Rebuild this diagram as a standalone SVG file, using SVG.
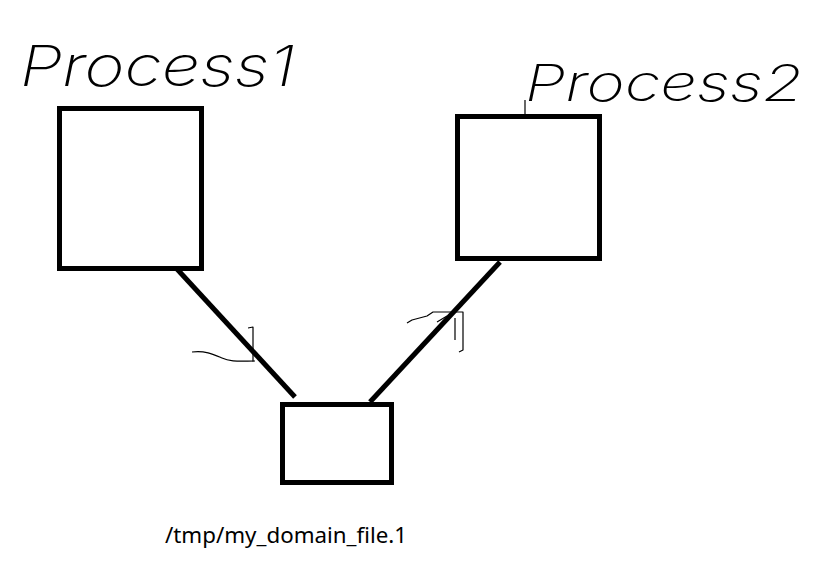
<svg xmlns="http://www.w3.org/2000/svg" width="837" height="570" viewBox="0 0 837 570">
<style>
.box{fill:#fff;stroke:#000;stroke-width:5}
.conn{stroke:#000;stroke-width:5;stroke-linecap:butt;fill:none}
.scrib{stroke:#000;stroke-width:1.2;fill:none;stroke-linejoin:round}
.hand{font-family:"Inter","Open Sans","DejaVu Sans",sans-serif;font-weight:200;font-style:italic;fill:#000}
.label{font-family:"Noto Sans","Open Sans","DejaVu Sans",sans-serif;font-size:22px;fill:#000}
</style>
<rect width="837" height="570" fill="#fff"/>
<g id="connectors">
<line class="conn" x1="177" y1="269" x2="295" y2="397"/>
<line class="conn" x1="500" y1="262" x2="370" y2="402"/>
<line class="scrib" x1="525" y1="100" x2="525" y2="115"/>
<path class="scrib" d="M192 352 C205 350 215 355 222 358 C230 362 240 361 255 361 M248 328 L253 327 L253 362"/>
<path class="scrib" d="M407 323 L412 320 L427 316 L433 312 L463 312 L463 350 L459 352 M437 322 L447 316 M455 318 L455 340"/>
</g>
<g id="process1">
<rect class="box" x="59.5" y="108.5" width="142" height="160"/>
<text class="hand" x="20" y="86" font-size="56" textLength="275" lengthAdjust="spacingAndGlyphs">Process1</text>
</g>
<g id="process2">
<rect class="box" x="457.5" y="116.5" width="142" height="142"/>
<text class="hand" x="525" y="101" font-size="50" textLength="278" lengthAdjust="spacingAndGlyphs">Process2</text>
</g>
<g id="domain_file">
<rect class="box" x="282.5" y="404.5" width="109" height="78"/>
<text class="label" x="165" y="543" textLength="242" lengthAdjust="spacingAndGlyphs">/tmp/my_domain_file.1</text>
</g>
</svg>
